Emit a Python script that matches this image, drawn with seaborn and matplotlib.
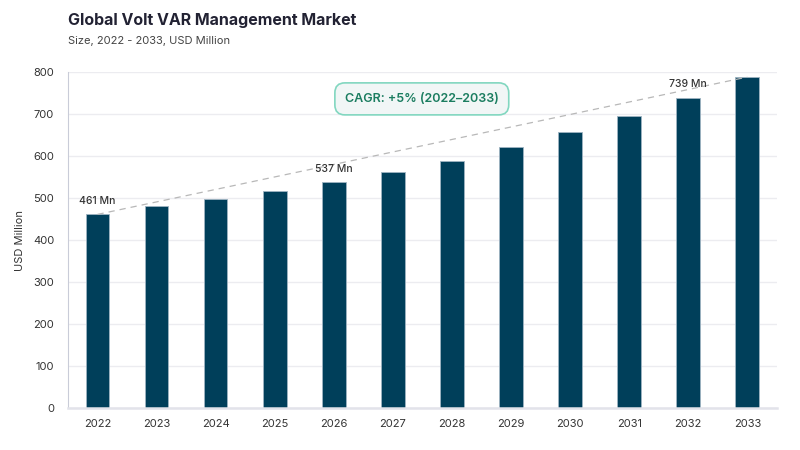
import matplotlib
matplotlib.use("Agg")
import matplotlib.pyplot as plt
import seaborn as sns
import pandas as pd

years = ["2022", "2023", "2024", "2025", "2026", "2027", "2028", "2029", "2030", "2031", "2032", "2033"]
values = [461, 481, 498, 517, 537, 561, 589, 621, 656, 695, 739, 788]
labelled_years = ["2022", "2026", "2032"]
label_texts = ["461 Mn", "537 Mn", "739 Mn"]
y_ticks = [0, 100, 200, 300, 400, 500, 600, 700, 800]

title = "Global Volt VAR Management Market"
subtitle = "Size, 2022 - 2033, USD Million"
cagr_text = "CAGR: +5% (2022\u20132033)"

sns.set_theme(style="white")
plt.rcParams["font.family"] = ["Inter", "DejaVu Sans"]

df = pd.DataFrame({"year": years, "value": values})

fig = plt.figure(figsize=(8, 4.5), dpi=100)
ax = fig.add_axes([0.085, 0.0933, 0.886, 0.7467])

sns.barplot(data=df, x="year", y="value", ax=ax, color="#003f5a", width=0.4,
            edgecolor="#9fb4c2", linewidth=0.6, saturation=1)

ax.set_ylim(0, 800)
ax.set_xlim(-0.5, len(years) - 0.5)
ax.set_yticks(y_ticks)
ax.set_yticklabels([str(t) for t in y_ticks])
ax.yaxis.grid(True, color="#ececf0", linewidth=1)
ax.set_axisbelow(True)
for s in ["top", "right"]:
    ax.spines[s].set_visible(False)
ax.spines["left"].set_color("#c9ccd8")
ax.spines["left"].set_linewidth(0.8)
ax.spines["bottom"].set_color("#e2e3ea")
ax.spines["bottom"].set_linewidth(1.8)
ax.tick_params(axis="both", length=0, labelsize=8, colors="#333333", pad=8)
ax.tick_params(axis="y", pad=10)
ax.set_xlabel("")
ax.set_ylabel("USD Million", fontsize=8, color="#333333", labelpad=6)

# trend line
ax.plot([0, len(years) - 1], [values[0], values[-1]], linestyle=(0, (5, 4)),
        color="#b8b8b8", linewidth=0.9, zorder=3)

for yr, txt in zip(labelled_years, label_texts):
    i = years.index(yr)
    ax.annotate(txt, (i, values[i]), xytext=(0, 6), textcoords="offset points",
                ha="center", va="bottom", fontsize=7.5, fontweight="medium",
                color="#333333")

ax.text(5.49, 736, cagr_text, ha="center", va="center", fontsize=9,
        fontweight="semibold", color="#1b7d60",
        bbox=dict(boxstyle="round,pad=0.8,rounding_size=0.8", facecolor="#f1f6f6",
                  edgecolor="#82d7c0", linewidth=1.2))

fig.text(0.085, 0.955, title, fontsize=11.5, fontweight="bold", color="#222233",
         ha="left", va="center")
fig.text(0.085, 0.908, subtitle, fontsize=8, color="#444444", ha="left", va="center")

fig.savefig("out.png", dpi=100, facecolor="white")
